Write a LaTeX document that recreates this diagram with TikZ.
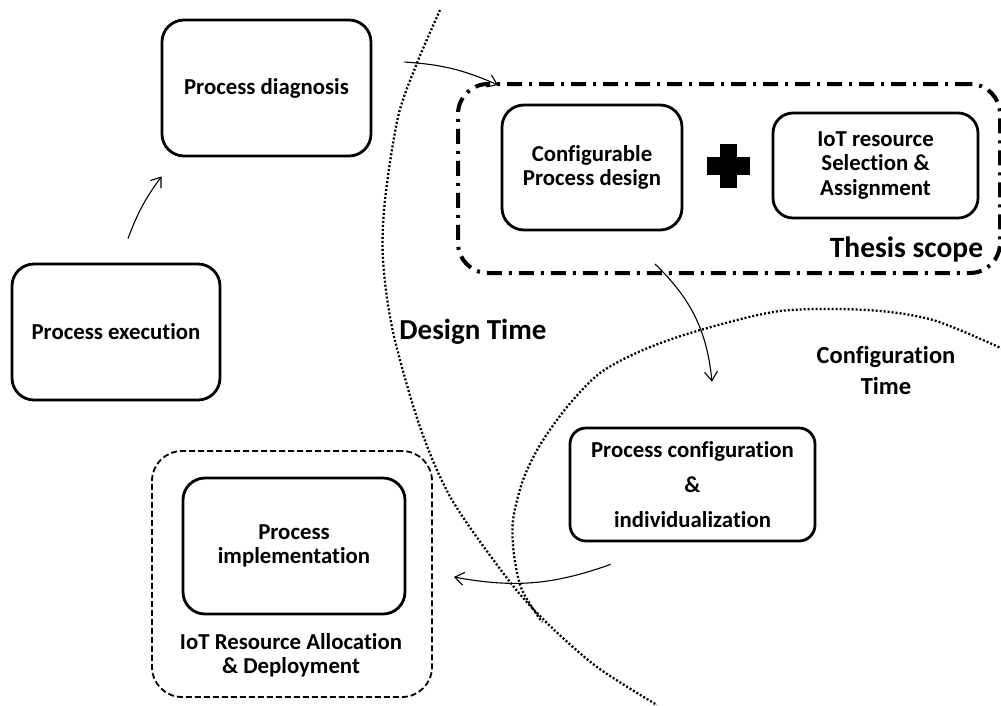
\documentclass[tikz,border=0pt]{standalone}
\usepackage{fontspec}
\setmainfont{Carlito}[Ligatures=NoCommon]
\usetikzlibrary{arrows.meta}

\begin{document}
\begin{tikzpicture}[x=10pt,y=10pt,
    box/.style={draw, line width=2.8pt, rounded corners=22pt, align=center,
      font=\fontsize{22.8}{24.5}\selectfont\bfseries},
    lbl/.style={align=center, font=\fontsize{22.8}{24.5}\selectfont\bfseries},
    title/.style={align=center, font=\fontsize{29}{31}\selectfont\bfseries},
    dashbox/.style={draw, line width=1.8pt, dash pattern=on 6pt off 3pt, rounded corners=30pt},
    scopebox/.style={draw, line width=4pt, dash pattern=on 15pt off 7pt on 3pt off 7pt, rounded corners=30pt},
    bound/.style={line width=2.3pt, dash pattern=on 2pt off 2pt},
    flow/.style={line width=1.1pt, -{Straight Barb[length=9pt,width=13pt]}},
  ]
  \useasboundingbox (0,0) rectangle (100.1,-70.5);

  % design time / configuration time
  \draw[bound] plot[smooth] coordinates {(44.0,-1.0) (41.7,-6.3) (39.8,-11.7) (38.5,-20.0)
    (38.3,-26.0) (39.3,-33.2) (42.0,-42.7) (45.2,-50.0) (51.0,-58.2) (54.7,-62.3)
    (59.7,-66.7) (65.7,-70.5)};
  \draw[bound] plot[smooth] coordinates {(100.3,-34.9) (93.3,-32.0) (86.7,-31.0) (78.0,-31.1)
    (69.7,-33.1) (64.3,-35.0) (60.0,-37.3) (56.7,-40.7) (54.0,-44.5) (52.3,-48.0)
    (51.3,-52.0) (51.4,-55.5) (52.2,-59.0) (54.2,-62.2)};

  \node[box, minimum width=209pt, minimum height=136pt] (diag) at (26.65,-8.8) {Process diagnosis};
  \node[box, minimum width=208pt, minimum height=136pt] (exec) at (11.6,-33.2) {Process execution};

  \node[dashbox, minimum width=280pt, minimum height=246pt] (deploy) at (29.2,-57.4) {};
  \node[box, minimum width=222pt, minimum height=136pt] (impl) at (29.4,-54.6) {Process\\implementation};
  \node[lbl] (deploylbl) at (29.1,-65.55) {IoT Resource Allocation\\\& Deployment};

  \node[scopebox, minimum width=542pt, minimum height=189pt] (thesis) at (72.9,-17.85) {};
  \node[box, minimum width=180pt, minimum height=125pt] (cpd) at (59.2,-16.75) {Configurable\\Process design};
  \node[box, rounded corners=20pt, minimum width=205pt, minimum height=105pt] (iot) at (87.55,-16.55)
    {IoT resource\\Selection \&\\Assignment};
  \fill (72.0,-14.4) rectangle (73.7,-18.8);
  \fill (70.7,-15.7) rectangle (75.0,-17.5);
  \node[title, font=\fontsize{29.5}{31}\selectfont\bfseries] (scopelbl) at (90.65,-24.9) {Thesis scope};

  \node[box, rounded corners=16pt, minimum width=245pt, minimum height=113pt,
    font=\fontsize{22.8}{35}\selectfont\bfseries] (conf) at (69.25,-48.45)
    {Process configuration\\\&\\individualization};

  \node[title] (designlbl) at (47.3,-33.2) {Design Time};
  \node[title, font=\fontsize{24.5}{31}\selectfont\bfseries] (configlbl) at (88.6,-37.05) {Configuration\\Time};

  \draw[flow] ([xshift=12pt,yshift=24pt]exec.north) to[bend left=8] ([xshift=1pt,yshift=-19pt]diag.south west);
  \draw[flow] ([xshift=32pt,yshift=26pt]diag.east) to[bend left=10] ([xshift=42pt,yshift=-3pt]thesis.north west);
  \draw[flow] ([xshift=-74pt,yshift=11pt]thesis.south) to[bend left=20] ([xshift=19.5pt,yshift=45pt]conf.north);
  \draw[flow] ([xshift=42pt,yshift=-22pt]conf.south west) to[bend left=15] ([xshift=21pt,yshift=-3pt]deploy.east);

\end{tikzpicture}
\end{document}
